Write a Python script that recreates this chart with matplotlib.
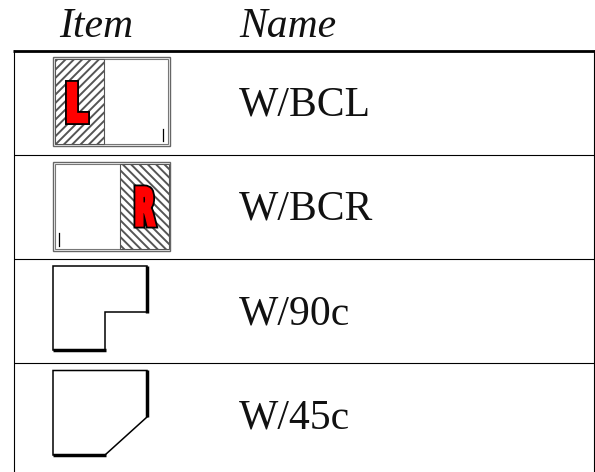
import matplotlib
matplotlib.use('Agg')
import matplotlib.pyplot as plt
from matplotlib.patches import Rectangle, Polygon, PathPatch
from matplotlib.text import TextPath
from matplotlib.font_manager import FontProperties
from matplotlib.transforms import Affine2D

plt.rcParams['hatch.linewidth'] = 1.4

headers = ['Item', 'Name']
names = ['W/BCL', 'W/BCR', 'W/90c', 'W/45c']
row_lines = [155, 259.3, 363.3]
name_base = [116, 220, 324.5, 428.5]

fig = plt.figure(figsize=(5.95, 4.72), dpi=100)
ax = fig.add_axes([0, 0, 1, 1])
ax.set_xlim(0, 595)
ax.set_ylim(472, 0)
ax.axis('off')

serif = ['Liberation Serif', 'DejaVu Serif']

# table lines
ax.plot([13, 595], [50.5, 50.5], color='black', lw=2.0, solid_capstyle='butt')
ax.plot([13.7, 13.7], [50, 472], color='black', lw=0.8, solid_capstyle='butt')
ax.plot([594, 594], [50, 472], color='black', lw=0.8, solid_capstyle='butt')
for y in row_lines:
    ax.plot([13.5, 594], [y, y], color='black', lw=0.8, solid_capstyle='butt')

# header and names
ax.text(96, 37, headers[0], family=serif, style='italic', fontsize=30, ha='center', va='baseline', color='#111111')
ax.text(239, 37, headers[1], family=serif, style='italic', fontsize=30, ha='left', va='baseline', color='#111111')
for n, y in zip(names, name_base):
    ax.text(239, y, n, family=serif, fontsize=30, ha='left', va='baseline', color='#111111')


def letter(s, x, y, w, h):
    # red door letter, black halo first and then a fattened red fill
    fp = FontProperties(family='DejaVu Sans', weight='bold')
    tp = TextPath((0, 0), s, size=1, prop=fp)
    bb = tp.get_extents()
    tr = Affine2D().translate(-bb.x0, -bb.y0).scale(w / bb.width, -h / bb.height).translate(x, y)
    ax.add_patch(PathPatch(tp, transform=tr + ax.transData, fc='black', ec='black', lw=5.0, zorder=5))
    ax.add_patch(PathPatch(tp, transform=tr + ax.transData, fc='red', ec='red', lw=2.4, zorder=6))


# door L
ax.add_patch(Rectangle((53, 57), 117, 89, fc='white', ec='#666666', lw=1.0))
ax.add_patch(Rectangle((55, 59), 113, 85, fc='none', ec='#777777', lw=0.8))
ax.add_patch(Rectangle((54.5, 59), 49, 85, fc='white', ec='#555555', lw=0.8, hatch='////'))
letter('L', 68, 121, 18, 38)
ax.plot([163.3, 163.3], [129, 141], color='black', lw=0.9)

# door R
ax.add_patch(Rectangle((53, 162), 117, 88.5, fc='white', ec='#666666', lw=1.0))
ax.add_patch(Rectangle((55, 164), 113, 84.5, fc='none', ec='#777777', lw=0.8))
ax.add_patch(Rectangle((119.5, 164), 49, 84.5, fc='white', ec='#555555', lw=0.8, hatch='\\\\\\\\'))
letter('R', 137, 225, 17, 37)
ax.plot([59.3, 59.3], [233, 246], color='black', lw=0.9)

# W/90c outline, thick on the right and bottom edges
ax.add_patch(Polygon([(53, 266), (147, 266), (147, 312), (104.5, 312), (104.5, 350), (53, 350)],
                     closed=True, fc='white', ec='black', lw=1.1, joinstyle='miter'))
ax.plot([147, 147], [265.5, 312.5], color='black', lw=2.5, solid_capstyle='butt')
ax.plot([52.5, 105.5], [350, 350], color='black', lw=2.5, solid_capstyle='butt')

# W/45c outline
ax.add_patch(Polygon([(53, 370.5), (147, 370.5), (147, 417), (105, 455), (53, 455)],
                     closed=True, fc='white', ec='black', lw=1.1, joinstyle='miter'))
ax.plot([147, 147], [370, 417], color='black', lw=2.5, solid_capstyle='butt')
ax.plot([52.5, 105.5], [455, 455], color='black', lw=2.5, solid_capstyle='butt')

fig.savefig('out.png', dpi=100)
